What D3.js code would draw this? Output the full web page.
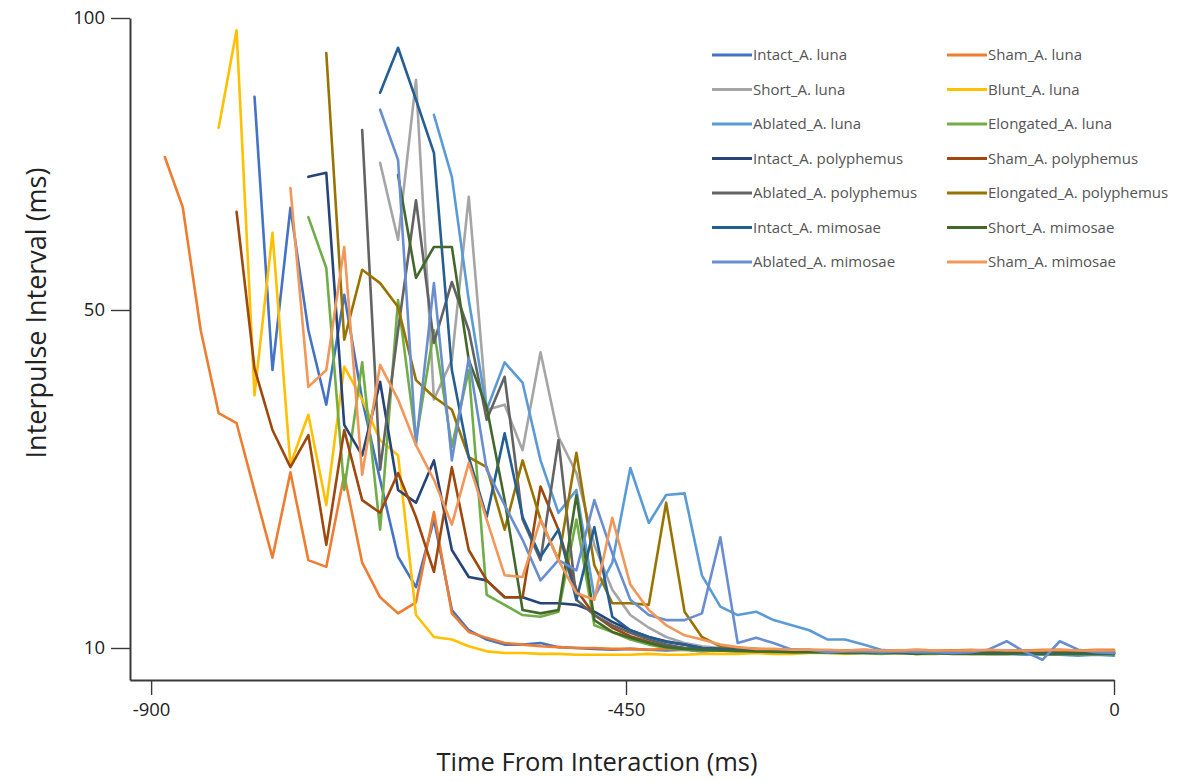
<!DOCTYPE html>
<html>
<head>
<meta charset="utf-8">
<script src="https://cdn.jsdelivr.net/npm/d3@7"></script>
<style>
  html, body { margin: 0; padding: 0; background: #fff; }
  svg { display: block; }
  text { font-family: "Open Sans", Lato, sans-serif; }
</style>
</head>
<body>
<svg id="chart" width="1180" height="782"></svg>
<script>
// ---- Data (time from interaction in ms; interpulse interval in ms) ----
const TIMES = [-887,-870,-853,-836,-819,-802,-785,-768,-751,-734,-717,-700,-683,-666,-649,-632,-615,-599,-582,-565,-548,-531,-514,-497,-480,-463,-446,-429,-413,-396,-380,-363,-347,-330,-314,-297,-281,-264,-248,-231,-215,-198,-182,-165,-149,-132,-116,-99,-83,-66,-50,-33,-17,0];

const SERIES_NAMES = [
  "Intact_A. luna", "Sham_A. luna", "Short_A. luna", "Blunt_A. luna",
  "Ablated_A. luna", "Elongated_A. luna", "Intact_A. polyphemus", "Sham_A. polyphemus",
  "Ablated_A. polyphemus", "Elongated_A. polyphemus", "Intact_A. mimosae", "Short_A. mimosae",
  "Ablated_A. mimosae", "Sham_A. mimosae"
];

// index into TIMES where each series begins
const SERIES_START = [5, 0, 12, 3, 15, 8, 8, 4, 11, 9, 12, 13, 12, 7];

const intactLuna = [86.5,42.9,67.5,47.6,38.8,52.6,39.4,29.9,20.8,17.2,25.2,14.5,12.1,11.0,10.4,10.4,10.6,10.1,10.0,9.9,
  9.8,9.9,9.8,9.7,9.8,9.6,9.7,9.6,9.6,9.5,9.6,9.5,9.5,9.6,9.5,9.4,9.5,9.5,9.4,9.5,9.4,9.4,9.5,9.4,9.4,9.3,9.4,9.4,9.3];
const shamLuna = [76.2,67.6,47.6,37.8,36.6,28.6,20.7,30.8,20.4,19.6,30.5,20.1,16.0,14.1,15.4,26.1,14.1,11.9,11.2,10.6,10.4,10.2,10.1,10.0,
  10.0,9.9,9.9,9.8,9.9,9.8,9.8,9.9,9.8,9.8,9.7,9.8,9.8,9.7,9.7,9.8,9.7,9.7,9.8,9.7,9.7,9.8,9.7,9.7,9.7,9.8,9.8,9.7,9.8,9.8];
const shortLuna = [75.2,62.0,89.4,39.4,44.1,69.4,38.2,38.8,33.4,45.0,35.0,30.7,22.2,16.9,13.9,12.4,11.3,10.6,10.2,
  10.0,9.9,9.8,9.8,9.7,9.7,9.6,9.6,9.6,9.5,9.6,9.5,9.5,9.5,9.6,9.5,9.5,9.5,9.4,9.5,9.5,9.4,9.5];
const bluntLuna = [81.2,97.9,39.9,63.2,31.7,37.6,26.9,43.3,39.4,34.6,32.8,13.9,11.3,11.0,10.2,9.6,9.4,
  9.4,9.3,9.3,9.2,9.2,9.2,9.2,9.3,9.2,9.2,9.3,9.3,9.3,9.4,9.3,9.3,9.4,9.4,9.3,9.4,9.4,9.4,9.5,9.4,9.5,9.5,9.4,9.5,9.5,9.5,9.6,9.5,9.6,9.6];
const ablatedLuna = [83.4,72.8,51.7,38.2,43.8,41.4,32.2,26.0,28.7,16.0,20.1,31.3,24.8,28.1,28.3,18.6,14.9,13.9,14.3,13.3,12.7,12.1,11.0,11.0,10.4,9.8,
  9.6,9.5,9.5,9.4,9.4,9.3,9.3,9.2,9.2,9.2,9.1,9.2,9.1];
const elongLuna = [65.9,57.2,28.7,43.8,24.0,51.7,34.6,47.6,33.8,42.9,16.3,15.1,13.9,13.7,14.3,25.2,12.7,11.9,11.0,10.4,10.0,
  9.8,9.7,9.7,9.6,9.6,9.5,9.5,9.5,9.4,9.4,9.4,9.3,9.4,9.3,9.3,9.4,9.3,9.3,9.3,9.4,9.3,9.3,9.4,9.3,9.4];
const intactPoly = [72.8,73.5,36.4,32.8,41.5,28.7,27.2,32.2,21.6,18.4,18.0,16.0,16.0,15.3,15.3,15.1,14.3,13.1,12.1,11.3,10.8,10.4,10.0,
  9.9,9.8,9.8,9.7,9.7,9.7,9.6,9.6,9.6,9.6,9.5,9.6,9.5,9.5,9.5,9.5,9.6,9.5,9.5,9.5,9.5,9.6,9.5];
const shamPoly = [66.8,43.1,35.8,31.4,35.2,22.2,35.8,27.5,26.0,30.7,25.5,19.0,31.4,21.6,18.0,16.0,16.0,29.1,24.0,16.9,13.9,12.4,11.4,10.7,10.2,10.0,
  9.9,9.8,9.8,9.8,9.7,9.7,9.7,9.7,9.6,9.7,9.6,9.6,9.6,9.6,9.7,9.6,9.6,9.6,9.7,9.6,9.6,9.7,9.6,9.7];
const ablatedPoly = [80.8,31.1,47.6,68.8,46.1,54.8,47.6,37.0,42.1,25.2,20.4,34.6,15.7,13.9,12.7,11.8,11.0,10.4,10.0,
  9.9,9.8,9.7,9.7,9.6,9.6,9.6,9.5,9.5,9.5,9.5,9.4,9.5,9.4,9.4,9.4,9.5,9.4,9.4,9.4,9.4,9.5,9.4,9.4];
const elongPoly = [94.0,46.5,56.9,54.6,50.5,41.7,39.7,38.2,32.6,31.4,24.0,32.2,25.2,20.4,33.1,19.8,15.3,15.3,15.1,27.2,14.3,11.3,10.2,10.0,
  9.9,9.8,9.8,9.7,9.7,9.7,9.6,9.6,9.6,9.6,9.6,9.5,9.6,9.5,9.5,9.6,9.5,9.5,9.6,9.5,9.5];
const intactMim = [87.2,94.9,86.0,76.9,42.9,32.6,25.5,35.4,25.5,20.8,24.0,15.7,24.3,13.7,12.1,11.3,10.7,10.4,10.0,
  9.9,9.8,9.8,9.7,9.7,9.6,9.6,9.6,9.5,9.5,9.5,9.5,9.5,9.4,9.4,9.4,9.5,9.4,9.4,9.4,9.4,9.4,9.4];
const shortMim = [73.1,55.5,60.8,60.8,44.1,38.5,27.5,14.5,14.1,14.5,28.1,13.3,11.9,11.2,10.6,10.1,
  9.9,9.8,9.7,9.7,9.6,9.6,9.5,9.5,9.5,9.4,9.4,9.4,9.4,9.3,9.4,9.3,9.3,9.3,9.3,9.4,9.3,9.3,9.3,9.3,9.3];
const ablatedMim = [84.3,75.7,34.0,54.6,32.2,44.3,31.1,26.9,22.8,18.0,20.4,19.2,27.5,21.2,15.7,13.9,13.3,13.3,14.1,23.1,
  10.6,11.2,10.6,9.8,9.8,9.5,9.6,9.6,9.5,9.6,9.5,9.5,9.4,9.5,9.8,10.8,9.6,8.6,10.8,9.8,9.5,9.4];
const shamMim = [70.9,40.9,42.9,60.8,30.5,43.5,39.4,34.0,29.9,24.6,31.9,25.2,18.6,18.4,25.2,20.4,16.5,15.7,25.4,17.5,14.5,12.7,11.5,11.0,10.4,10.1,
  9.9,9.9,9.8,9.8,9.8,9.7,9.8,9.7,9.7,9.8,9.7,9.7,9.7,9.8,9.7,9.7,9.7,9.8,9.7,9.7,9.7];

const SERIES_VALUES = [intactLuna, shamLuna, shortLuna, bluntLuna, ablatedLuna, elongLuna,
  intactPoly, shamPoly, ablatedPoly, elongPoly, intactMim, shortMim, ablatedMim, shamMim];

const X_TICKS = [-900, -450, 0];
const Y_TICKS = [10, 50, 100];

// ---- Styles ----
const COLORS = ["#4472C4", "#ED7D31", "#A5A5A5", "#FFC000", "#5B9BD5", "#70AD47",
  "#264478", "#9E480E", "#636363", "#997300", "#255E91", "#43682B", "#698ED0", "#F1975A"];

const svg = d3.select("#chart");

const x = d3.scaleLinear().domain([-920, -450, 0]).range([130, 626, 1114]);
const y = d3.scaleLinear().domain([6.2, 10, 50, 100]).range([680, 648, 310, 18]);

// series lines
const line = d3.line()
  .x(d => x(d.t))
  .y(d => y(d.v));

const seriesData = SERIES_NAMES.map((name, i) => ({
  name,
  color: COLORS[i],
  points: SERIES_VALUES[i].map((v, j) => ({ t: TIMES[SERIES_START[i] + j], v }))
    .filter(p => p.t !== undefined)
}));

svg.append("g")
  .selectAll("path")
  .data(seriesData)
  .join("path")
  .attr("fill", "none")
  .attr("stroke", d => d.color)
  .attr("stroke-width", 2.6)
  .attr("stroke-linejoin", "round")
  .attr("stroke-linecap", "round")
  .attr("d", d => line(d.points));

// axes
const xAxis = svg.append("g")
  .attr("transform", "translate(0,680)")
  .call(d3.axisBottom(x).tickValues(X_TICKS).tickSizeInner(15).tickSizeOuter(0).tickPadding(8).tickFormat(d => String(d)));
const yAxis = svg.append("g")
  .attr("transform", "translate(130,0)")
  .call(d3.axisLeft(y).tickValues(Y_TICKS).tickSizeInner(19).tickSizeOuter(0).tickPadding(6).tickFormat(d => String(d)));

[xAxis, yAxis].forEach(g => {
  g.select(".domain").attr("stroke", "#3a3a3a").attr("stroke-width", 2);
  g.selectAll(".tick line").attr("stroke", "#3a3a3a").attr("stroke-width", 1.4);
  g.selectAll(".tick text").attr("fill", "#222").style("font-size", "18.5px")
    .style("font-family", "'Open Sans', Lato, sans-serif");
});

// axis titles
svg.append("text")
  .attr("x", 597).attr("y", 771)
  .attr("text-anchor", "middle")
  .attr("fill", "#222")
  .style("font-size", "25.5px")
  .text("Time From Interaction (ms)");

svg.append("text")
  .attr("transform", "translate(46,313) rotate(-90)")
  .attr("text-anchor", "middle")
  .attr("fill", "#222")
  .style("font-size", "27px")
  .text("Interpulse Interval (ms)");

// legend
const legend = svg.append("g");
const legItems = legend.selectAll("g")
  .data(seriesData)
  .join("g")
  .attr("transform", (d, i) => `translate(${i % 2 === 0 ? 712 : 947},${55 + Math.floor(i / 2) * 34.5})`);
legItems.append("line")
  .attr("x1", 0).attr("x2", 40)
  .attr("y1", 0).attr("y2", 0)
  .attr("stroke", d => d.color)
  .attr("stroke-width", 3);
legItems.append("text")
  .attr("x", 41).attr("y", 0)
  .attr("dy", "0.35em")
  .attr("fill", "#555")
  .style("font-size", "15px")
  .text(d => d.name);
</script>
</body>
</html>
